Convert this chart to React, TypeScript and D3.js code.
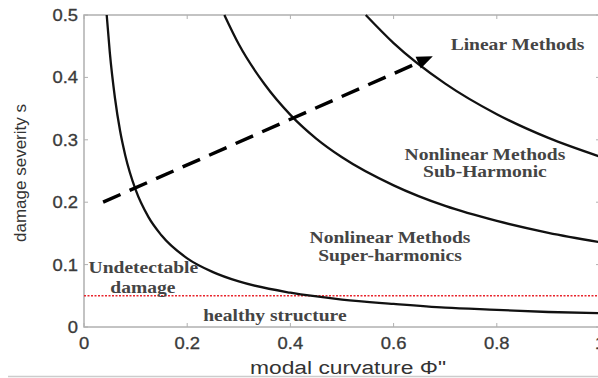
import React, { useRef, useEffect } from 'react';
import * as d3 from 'd3';

// curves: [modal curvature, damage severity]
const healthyCurve: [number, number][] = [
  [0.044, 0.5], [0.05, 0.44], [0.06, 0.367], [0.07, 0.314], [0.08, 0.275],
  [0.1, 0.22], [0.125, 0.176], [0.15, 0.147], [0.2, 0.11], [0.25, 0.088],
  [0.3, 0.073], [0.4, 0.055], [0.5, 0.044], [0.6, 0.037], [0.7, 0.031],
  [0.8, 0.0275], [0.9, 0.024], [1.0, 0.022]
];
const superCurve: [number, number][] = [
  [0.272, 0.5], [0.3, 0.453], [0.35, 0.389], [0.4, 0.34], [0.45, 0.302],
  [0.5, 0.272], [0.6, 0.227], [0.7, 0.194], [0.8, 0.17], [0.9, 0.151], [1.0, 0.136]
];
const subCurve: [number, number][] = [
  [0.546, 0.5], [0.6, 0.455], [0.7, 0.39], [0.8, 0.341], [0.9, 0.303], [1.0, 0.273]
];
const arrowLine: [number, number][] = [[0.037, 0.2], [0.676, 0.434]];
const detectionLimit = 0.05;

const xTicks = [0, 0.2, 0.4, 0.6, 0.8, 1];
const yTicks = [0, 0.1, 0.2, 0.3, 0.4, 0.5];

// region labels: text, x, s (baseline)
const regionLabels: [string, number, number][] = [
  ['Linear Methods', 0.84, 0.444],
  ['Nonlinear Methods', 0.777, 0.268],
  ['Sub-Harmonic', 0.777, 0.241],
  ['Nonlinear Methods', 0.593, 0.135],
  ['Super-harmonics', 0.593, 0.105],
  ['Undetectable', 0.115, 0.086],
  ['damage', 0.114, 0.054],
  ['healthy structure', 0.37, 0.01]
];

const W = 598;
const H = 378;
const margin = { left: 84, top: 15, right: 600, bottom: 327 };
const sans = '"Liberation Sans", Arial, sans-serif';
const serif = '"Liberation Serif", "Times New Roman", serif';

function App() {
  const svgRef = useRef<SVGSVGElement>(null);

  useEffect(() => {
    const svg = d3.select(svgRef.current);
    svg.selectAll('*').remove();

    const x = d3.scaleLinear().domain([0, 1]).range([margin.left, margin.right]);
    const y = d3.scaleLinear().domain([0, 0.5]).range([margin.bottom, margin.top]);

    svg.append('rect').attr('width', W).attr('height', H).attr('fill', '#fff');

    // axes box
    const axisColor = '#b0b0b0';
    svg.append('rect')
      .attr('x', x(0)).attr('y', y(0.5))
      .attr('width', x(1) - x(0)).attr('height', y(0) - y(0.5))
      .attr('fill', 'none').attr('stroke', axisColor).attr('stroke-width', 1.5);

    // inward ticks
    const tk = 4;
    xTicks.forEach(t => {
      svg.append('line').attr('x1', x(t)).attr('x2', x(t)).attr('y1', y(0)).attr('y2', y(0) - tk)
        .attr('stroke', axisColor);
      svg.append('line').attr('x1', x(t)).attr('x2', x(t)).attr('y1', y(0.5)).attr('y2', y(0.5) + tk)
        .attr('stroke', axisColor);
      svg.append('text')
        .attr('transform', `translate(${x(t)},${y(0) + 22}) scale(1.15,1)`)
        .attr('text-anchor', 'middle')
        .attr('font-family', sans).attr('font-size', 16).attr('fill', '#3a3a3a')
        .attr('stroke', '#3a3a3a').attr('stroke-width', 0.3)
        .text(d3.format('~g')(t));
    });
    yTicks.forEach(t => {
      svg.append('line').attr('x1', x(0)).attr('x2', x(0) + tk).attr('y1', y(t)).attr('y2', y(t))
        .attr('stroke', axisColor);
      svg.append('line').attr('x1', x(1)).attr('x2', x(1) - tk).attr('y1', y(t)).attr('y2', y(t))
        .attr('stroke', axisColor);
      svg.append('text')
        .attr('transform', `translate(${x(0) - 6},${y(t) + 6}) scale(1.15,1)`)
        .attr('text-anchor', 'end')
        .attr('font-family', sans).attr('font-size', 16).attr('fill', '#3a3a3a')
        .attr('stroke', '#3a3a3a').attr('stroke-width', 0.3)
        .text(d3.format('~g')(t));
    });

    // axis titles
    svg.append('text')
      .attr('transform', `translate(348,374) scale(1.2,1)`)
      .attr('text-anchor', 'middle')
      .attr('font-family', sans).attr('font-size', 19).attr('fill', '#333')
      .text('modal curvature \u03A6"');
    svg.append('text')
      .attr('transform', `translate(26,173) rotate(-90)`)
      .attr('text-anchor', 'middle')
      .attr('font-family', sans).attr('font-size', 17).attr('fill', '#333')
      .text('damage severity s');

    // detection limit
    svg.append('line')
      .attr('x1', x(0)).attr('x2', x(1))
      .attr('y1', y(detectionLimit)).attr('y2', y(detectionLimit))
      .attr('stroke', '#e8242c').attr('stroke-width', 1.6).attr('stroke-dasharray', '2,1.5');

    // boundary curves
    const line = d3.line<[number, number]>()
      .x(d => x(d[0])).y(d => y(d[1]))
      .curve(d3.curveMonotoneX);
    [healthyCurve, superCurve, subCurve].forEach(c => {
      svg.append('path').attr('d', line(c)).attr('fill', 'none')
        .attr('stroke', '#111').attr('stroke-width', 2.3);
    });

    // dashed arrow
    const [p0, p1] = arrowLine.map(d => [x(d[0]), y(d[1])]);
    const ang = Math.atan2(p1[1] - p0[1], p1[0] - p0[0]);
    const headLen = 16;
    const headW = 6.5;
    const bx = p1[0] - headLen * Math.cos(ang);
    const by = p1[1] - headLen * Math.sin(ang);
    svg.append('line')
      .attr('x1', p0[0]).attr('y1', p0[1]).attr('x2', bx).attr('y2', by)
      .attr('stroke', '#000').attr('stroke-width', 3.5).attr('stroke-dasharray', '19,10');
    const nx = -Math.sin(ang);
    const ny = Math.cos(ang);
    svg.append('path')
      .attr('d', `M${p1[0]},${p1[1]}L${bx + nx * headW},${by + ny * headW}L${bx - nx * headW},${by - ny * headW}Z`)
      .attr('fill', '#000');

    // region labels
    regionLabels.forEach(([t, lx, ls]) => {
      svg.append('text')
        .attr('transform', `translate(${x(lx)},${y(ls)}) scale(1.15,1)`)
        .attr('text-anchor', 'middle')
        .attr('font-family', serif).attr('font-size', 17).attr('font-weight', 'bold')
        .attr('fill', '#444')
        .text(t);
    });

    // separator at the bottom of the figure
    svg.append('line').attr('x1', 8).attr('x2', W).attr('y1', 376.5).attr('y2', 376.5)
      .attr('stroke', '#ccc').attr('stroke-width', 1.5);
  }, []);

  return (
    <svg ref={svgRef} width={W} height={H}
      style={{ position: 'absolute', left: 0, top: 0, display: 'block' }} />
  );
}

export default App;
